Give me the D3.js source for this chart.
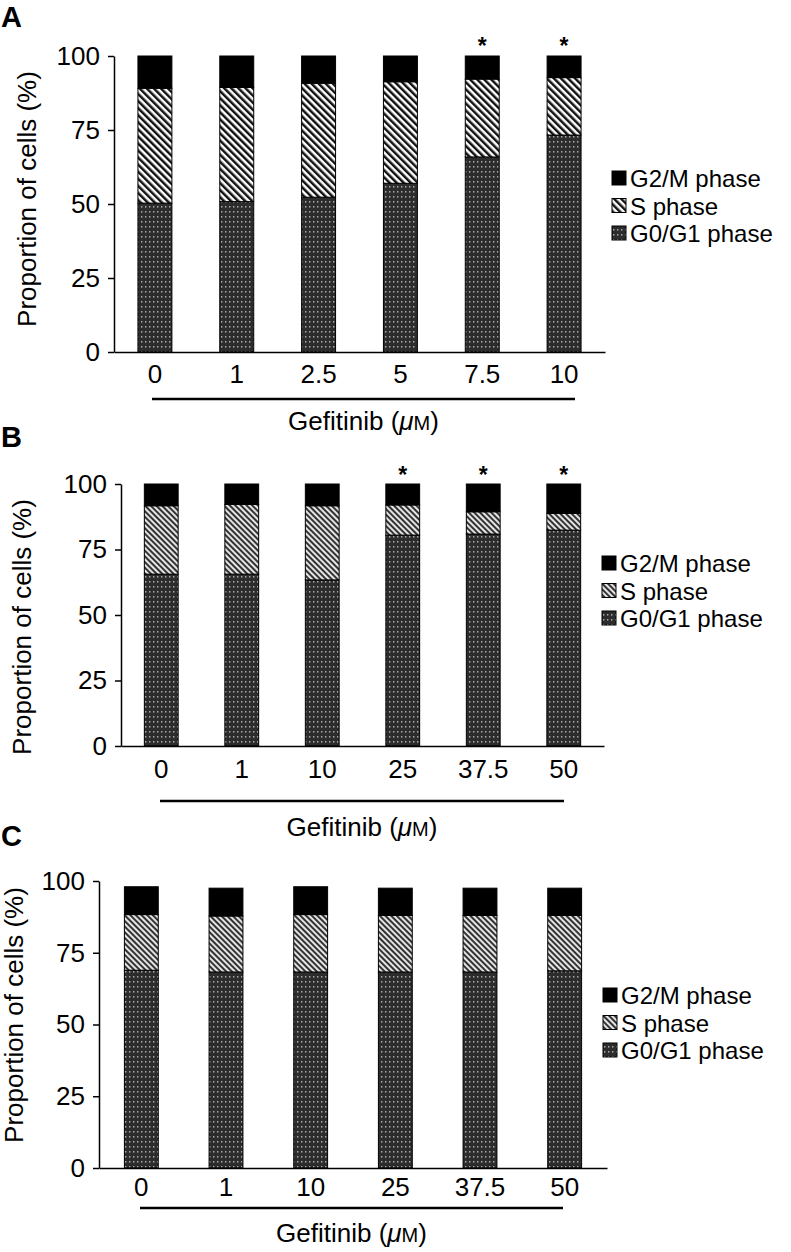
<!DOCTYPE html>
<html>
<head>
<meta charset="utf-8">
<script src="https://cdn.jsdelivr.net/npm/d3@7"></script>
<style>
  body { margin: 0; background: #fff; }
  text { font-family: "Liberation Sans", Arial, Helvetica, sans-serif; fill: #000; }
</style>
</head>
<body>
<svg id="chart" width="791" height="1252"></svg>
<script>
// phases, bottom to top
const phaseKeys = ['g0g1', 's', 'g2m'];
const legendLabels = ['G2/M phase', 'S phase', 'G0/G1 phase'];
const yTicks = [0, 25, 50, 75, 100];

// Panel A
const dosesA = ['0', '1', '2.5', '5', '7.5', '10'];
const g0g1A = [50.3, 50.8, 52.3, 57.0, 65.9, 73.3];
const sA = [38.8, 38.6, 38.5, 34.3, 26.3, 19.4];
const g2mA = [10.9, 10.6, 9.2, 8.7, 7.8, 7.3];
const sigA = [false, false, false, false, true, true];

// Panel B
const dosesB = ['0', '1', '10', '25', '37.5', '50'];
const g0g1B = [65.6, 65.6, 63.4, 80.5, 80.9, 82.4];
const sB = [26.1, 26.6, 28.3, 11.5, 8.5, 6.4];
const g2mB = [8.3, 7.8, 8.3, 8.0, 10.6, 11.2];
const sigB = [false, false, false, true, true, true];

// Panel C
const dosesC = ['0', '1', '10', '25', '37.5', '50'];
const g0g1C = [68.9, 68.3, 68.3, 68.3, 68.3, 68.7];
const sC = [19.4, 19.5, 20.0, 19.7, 19.7, 19.3];
const g2mC = [9.7, 9.7, 9.7, 9.5, 9.5, 9.5];
const sigC = [false, false, false, false, false, false];

const svg = d3.select('#chart');
const defs = svg.append('defs');

// dotted dark fill for G0/G1
const dots = defs.append('pattern').attr('id', 'dots')
  .attr('patternUnits', 'userSpaceOnUse').attr('width', 4).attr('height', 5);
dots.append('rect').attr('width', 4).attr('height', 5).attr('fill', '#2c2c2c');
dots.append('rect').attr('x', 1).attr('y', 1).attr('width', 1.4).attr('height', 1.6).attr('fill', '#a8a8a8');

// diagonal stripes for S phase (crisp in A, finer/greyer in B and C)
function stripes(id, size, dark, light) {
  const p = defs.append('pattern').attr('id', id)
    .attr('patternUnits', 'userSpaceOnUse')
    .attr('width', size).attr('height', size)
    .attr('patternTransform', 'rotate(-45)');
  p.append('rect').attr('width', size).attr('height', size).attr('fill', light);
  p.append('rect').attr('width', size / 2).attr('height', size).attr('fill', dark);
}
stripes('stripesA', 5, '#111', '#fff');
stripes('stripesB', 4, '#333', '#e4e4e4');

const panels = [
  { letter: 'A', doses: dosesA, g0g1: g0g1A, s: sA, g2m: g2mA, sig: sigA,
    letterY: 27, x0: 114, x1: 605, yTop: 56, yBot: 352, pad: 0.585, tickPad: 14,
    titleX: 27, titleY: 199, lineX0: 152, lineX1: 575, lineY: 399, labelY: 430,
    legendX: 612, legendY: 178, starY: 43, sFill: 'url(#stripesA)' },
  { letter: 'B', doses: dosesB, g0g1: g0g1B, s: sB, g2m: g2mB, sig: sigB,
    letterY: 447, x0: 121, x1: 604, yTop: 484, yBot: 746, pad: 0.58, tickPad: 15,
    titleX: 22, titleY: 627, lineX0: 160, lineX1: 564, lineY: 801, labelY: 836,
    legendX: 602, legendY: 563, starY: 472, sFill: 'url(#stripesB)' },
  { letter: 'C', doses: dosesC, g0g1: g0g1C, s: sC, g2m: g2mC, sig: sigC,
    letterY: 846, x0: 99, x1: 607, yTop: 881, yBot: 1168, pad: 0.6, tickPad: 11,
    titleX: 14, titleY: 1015, lineX0: 140, lineX1: 563, lineY: 1208, labelY: 1242,
    legendX: 603, legendY: 995, starY: 0, sFill: 'url(#stripesB)' }
];

panels.forEach(p => {
  const g = svg.append('g');
  const fills = { g0g1: 'url(#dots)', s: p.sFill, g2m: '#000' };

  const rows = p.doses.map((d, i) => ({ dose: d, g0g1: p.g0g1[i], s: p.s[i], g2m: p.g2m[i] }));
  const series = d3.stack().keys(phaseKeys)(rows);

  const x = d3.scaleBand().domain(p.doses).range([p.x0, p.x1])
    .paddingInner(p.pad).paddingOuter(p.pad / 2);
  const y = d3.scaleLinear().domain([0, 100]).range([p.yBot, p.yTop]);

  // panel letter
  g.append('text').attr('x', 1).attr('y', p.letterY)
    .style('font-size', '29px').style('font-weight', 'bold').text(p.letter);

  // bars
  g.selectAll('g.layer').data(series).join('g').attr('class', 'layer')
    .attr('fill', d => fills[d.key])
    .selectAll('rect').data(d => d).join('rect')
    .attr('x', d => x(d.data.dose))
    .attr('width', x.bandwidth())
    .attr('y', d => y(d[1]))
    .attr('height', d => y(d[0]) - y(d[1]))
    .attr('stroke', '#000').attr('stroke-width', 1);

  // significance stars
  g.selectAll('text.star').data(p.doses.filter((d, i) => p.sig[i])).join('text')
    .attr('class', 'star')
    .attr('x', d => x(d) + x.bandwidth() / 2)
    .attr('y', p.starY + 11)
    .attr('text-anchor', 'middle')
    .style('font-size', '23px').style('font-weight', 'bold')
    .text('*');

  // y axis
  const yAxis = g.append('g').attr('transform', `translate(${p.x0},0)`)
    .call(d3.axisLeft(y).tickValues(yTicks).tickSizeInner(6).tickSizeOuter(0).tickPadding(8));
  yAxis.selectAll('path, line').attr('stroke', '#000').attr('stroke-width', 1.5);
  yAxis.selectAll('text').style('font-size', '26px').attr('font-family', null);

  // x axis
  const xAxis = g.append('g').attr('transform', `translate(0,${p.yBot})`)
    .call(d3.axisBottom(x).tickSize(0).tickPadding(p.tickPad - 1));
  xAxis.select('.domain').attr('stroke', '#000').attr('stroke-width', 1.5);
  xAxis.selectAll('text').style('font-size', '26px').attr('font-family', null);

  // y title
  g.append('text')
    .attr('transform', `translate(${p.titleX},${p.titleY}) rotate(-90)`)
    .attr('text-anchor', 'middle').attr('dominant-baseline', 'central')
    .style('font-size', '26px')
    .text('Proportion of cells (%)');

  // dose bracket and label
  g.append('line').attr('x1', p.lineX0).attr('x2', p.lineX1)
    .attr('y1', p.lineY).attr('y2', p.lineY)
    .attr('stroke', '#000').attr('stroke-width', 2.5);
  const lab = g.append('text')
    .attr('x', (p.lineX0 + p.lineX1) / 2).attr('y', p.labelY)
    .attr('text-anchor', 'middle').style('font-size', '26px');
  lab.append('tspan').text('Gefitinib (');
  lab.append('tspan').style('font-style', 'italic').text('μ');
  lab.append('tspan').style('font-size', '20px').text('M');
  lab.append('tspan').text(')');

  // legend
  const legFills = ['#000', p.sFill, 'url(#dots)'];
  const leg = g.append('g').attr('transform', `translate(${p.legendX},${p.legendY})`);
  const items = leg.selectAll('g').data(legendLabels).join('g')
    .attr('transform', (d, i) => `translate(0,${i * 27.5})`);
  items.append('rect').attr('x', 0).attr('y', -7).attr('width', 14).attr('height', 14)
    .attr('fill', (d, i) => legFills[i]).attr('stroke', '#000').attr('stroke-width', 1);
  items.append('text').attr('x', 18).attr('y', 9)
    .style('font-size', '24px').text(d => d);
});
</script>
</body>
</html>
